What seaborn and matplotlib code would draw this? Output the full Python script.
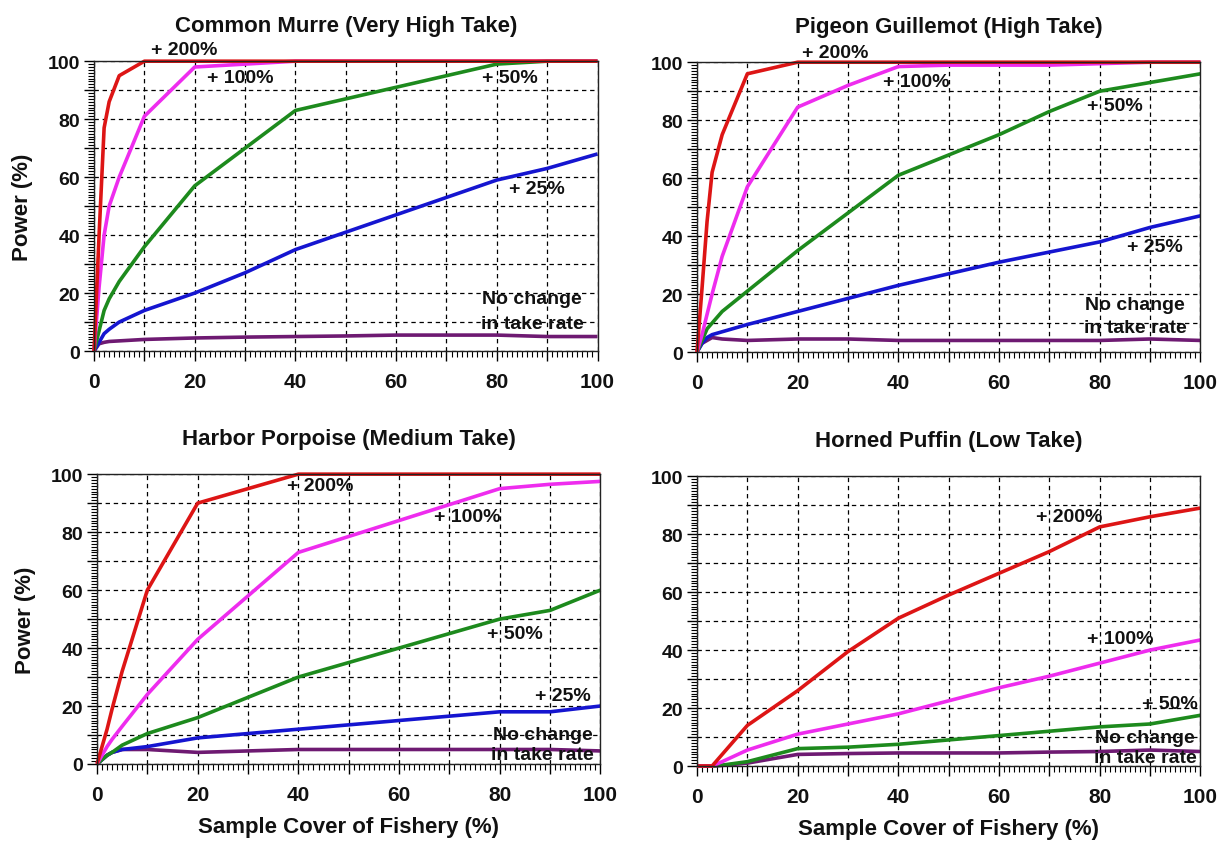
import numpy as np
import pandas as pd
import matplotlib
matplotlib.use("Agg")
import matplotlib.pyplot as plt
from matplotlib.ticker import MultipleLocator, FuncFormatter
import seaborn as sns

# ---------------- data ----------------
COVER = [0, 1, 2, 3, 5, 10, 20, 30, 40, 50, 60, 70, 80, 90, 100]

MURRE_200 = [0, 40, 77, 86, 95, 100, 100, 100, 100, 100, 100, 100, 100, 100, 100]
MURRE_100 = [0, 22, 40, 50, 60, 81, 98, 99, 100, 100, 100, 100, 100, 100, 100]
MURRE_50 = [0, 7, 14, 18, 24, 36, 57, 70, 83, 87, 91, 95, 99, 100, 100]
MURRE_25 = [0, 3, 6, 7.5, 10, 14, 20, 27, 35, 41, 47, 53, 59, 63, 68]
MURRE_0 = [0, 2.5, 3, 3.3, 3.5, 4, 4.5, 4.8, 5, 5.2, 5.5, 5.5, 5.5, 5, 5]

GUILL_200 = [0, 22, 45, 62, 75, 96, 100, 100, 100, 100, 100, 100, 100, 100, 100]
GUILL_100 = [0, 6, 13, 20, 33, 57, 84.5, 92, 98.5, 99, 99, 99, 99.5, 100, 100]
GUILL_50 = [0, 4, 8, 10, 14, 21, 35, 48, 61, 68, 75, 83, 90, 93, 96]
GUILL_25 = [0, 3, 5, 6, 7, 9.5, 14, 18.5, 23, 27, 31, 34.5, 38, 43, 47]
GUILL_0 = [0, 3, 4, 5, 4.5, 4, 4.5, 4.5, 4, 4, 4, 4, 4, 4.5, 4]

PORP_200 = [0, 6, 12, 19, 32, 60, 90, 95, 100, 100, 100, 100, 100, 100, 100]
PORP_100 = [0, 3, 6, 8.5, 13, 24, 43, 58, 73, 78.5, 84, 89.5, 95, 96.5, 97.5]
PORP_50 = [0, 1.5, 3, 4, 6.5, 10.5, 16, 23, 30, 35, 40, 45, 50, 53, 60]
PORP_25 = [0, 1.5, 3, 4, 5, 6, 9, 10.5, 12, 13.5, 15, 16.5, 18, 18, 20]
PORP_0 = [0, 1.5, 3, 4, 5, 5, 4, 4.5, 5, 5, 5, 5, 5, 5, 4.5]

PUFF_200 = [0, 0, 0, 0, 4, 14, 26, 39.5, 51, 59, 66.5, 74, 82.5, 86, 89]
PUFF_100 = [0, 0, 0, 0, 1.5, 5.5, 11, 14.5, 18, 22.5, 27, 31, 35.5, 40, 43.5]
PUFF_50 = [0, 0, 0, 0, 0.3, 1.5, 6, 6.5, 7.5, 9, 10.5, 12, 13.5, 14.5, 17.5]
PUFF_0 = [0, 0, 0, 0, 0.2, 1, 4, 4.3, 4.5, 4.5, 4.5, 4.8, 5, 5.5, 5]

TITLES = ["Common Murre (Very High Take)", "Pigeon Guillemot (High Take)",
          "Harbor Porpoise (Medium Take)", "Horned Puffin (Low Take)"]
SERIES_NAMES = ["No change", "+ 25%", "+ 50%", "+ 100%", "+ 200%"]

PANELS = [
    {"No change": MURRE_0, "+ 25%": MURRE_25, "+ 50%": MURRE_50, "+ 100%": MURRE_100, "+ 200%": MURRE_200},
    {"No change": GUILL_0, "+ 25%": GUILL_25, "+ 50%": GUILL_50, "+ 100%": GUILL_100, "+ 200%": GUILL_200},
    {"No change": PORP_0, "+ 25%": PORP_25, "+ 50%": PORP_50, "+ 100%": PORP_100, "+ 200%": PORP_200},
    {"No change": PUFF_0, "+ 50%": PUFF_50, "+ 100%": PUFF_100, "+ 200%": PUFF_200},
]

# label positions (data coords) per panel
LABELS = [
    {"+ 200%": (18, 104), "+ 100%": (29, 94.5), "+ 50%": (82.5, 94.5), "+ 25%": (88, 56),
     "No change": (87, 18), "in take rate": (87, 9.5)},
    {"+ 200%": (27.5, 103.5), "+ 100%": (43.5, 93.5), "+ 50%": (83, 85), "+ 25%": (91, 36.5),
     "No change": (87, 16.5), "in take rate": (87, 8.3)},
    {"+ 200%": (44.3, 96), "+ 100%": (73.5, 85.5), "+ 50%": (83, 45), "+ 25%": (92.5, 23.5),
     "No change": (88.5, 10), "in take rate": (88.5, 3.4)},
    {"+ 200%": (74, 86), "+ 100%": (84, 44), "+ 50%": (94, 21.5),
     "No change": (89, 9.7), "in take rate": (89, 2.8)},
]

PALETTE = {"No change": "#6e1a72", "+ 25%": "#1515d0", "+ 50%": "#1d8a1d",
           "+ 100%": "#ee2cee", "+ 200%": "#dd1515"}

# ---------------- style ----------------
sns.set_theme(style="white")
plt.rcParams["font.family"] = ["Liberation Sans", "DejaVu Sans"]
plt.rcParams["font.weight"] = "bold"
plt.rcParams["axes.labelweight"] = "bold"
plt.rcParams["axes.titleweight"] = "bold"

fig = plt.figure(figsize=(12.31, 8.45), dpi=100)
W, H = 0.409, 0.343
positions = [(0.0764, 0.5834), (0.5662, 0.5822), (0.0788, 0.0947), (0.5662, 0.0923)]

for i, (pos, data, labs, title) in enumerate(zip(positions, PANELS, LABELS, TITLES)):
    ax = fig.add_axes([pos[0], pos[1], W, H])
    rows = []
    for name in SERIES_NAMES:
        if name in data:
            for xv, yv in zip(COVER, data[name]):
                rows.append({"cover": xv, "power": yv, "series": name})
    df = pd.DataFrame(rows)
    order = [n for n in SERIES_NAMES if n in data]
    sns.lineplot(data=df, x="cover", y="power", hue="series", hue_order=order,
                 palette=PALETTE, estimator=None, sort=False, linewidth=2.6,
                 legend=False, ax=ax)
    for ln in ax.lines:
        ln.set_clip_on(False)
        ln.set_solid_capstyle("butt")
        ln.set_solid_joinstyle("round")

    ax.set_xlim(0, 100)
    ax.set_ylim(0, 100)
    ax.xaxis.set_major_locator(MultipleLocator(10))
    ax.yaxis.set_major_locator(MultipleLocator(10))
    ax.xaxis.set_minor_locator(MultipleLocator(1))
    ax.yaxis.set_minor_locator(MultipleLocator(1))
    fmt = FuncFormatter(lambda v, p: f"{int(round(v))}" if int(round(v)) % 20 == 0 else "")
    ax.xaxis.set_major_formatter(fmt)
    ax.yaxis.set_major_formatter(fmt)
    ax.tick_params(axis="both", which="major", direction="out", length=7, width=1,
                   color="black", left=True, bottom=True)
    ax.tick_params(axis="both", which="minor", direction="out", length=4, width=0.8,
                   color="black", left=True, bottom=True)
    ax.tick_params(axis="x", which="major", labelsize=15, pad=8)
    ax.tick_params(axis="y", which="major", labelsize=14, pad=3)
    for lab in ax.get_xticklabels() + ax.get_yticklabels():
        lab.set_fontweight("bold")
        lab.set_color("#111111")
    ax.grid(True, which="major", color="black", linestyle=(0, (3.5, 3)), linewidth=0.9)
    ax.set_axisbelow(True)
    for sp in ax.spines.values():
        sp.set_color("#222222")
        sp.set_linewidth(1.0)
        sp.set_visible(True)

    ax.set_title(title, fontsize=16, fontweight="bold", pad=22, color="#111111")

    if i in (0, 2):
        ax.set_ylabel("Power (%)", fontsize=16, fontweight="bold", color="#111111")
        ax.yaxis.set_label_coords(-0.143, 0.5)
        ax.yaxis.label.set_va("center")
    else:
        ax.set_ylabel("")
    if i in (2, 3):
        ax.set_xlabel("Sample Cover of Fishery (%)", fontsize=16, fontweight="bold",
                      color="#111111")
        ax.xaxis.set_label_coords(0.5, -0.217)
        ax.xaxis.label.set_va("center")
    else:
        ax.set_xlabel("")

    for txt, (tx, ty) in labs.items():
        ax.text(tx, ty, txt, ha="center", va="center", fontsize=14,
                fontweight="bold", color="#111111", clip_on=False)

fig.savefig("out.png", dpi=100, facecolor="white")
